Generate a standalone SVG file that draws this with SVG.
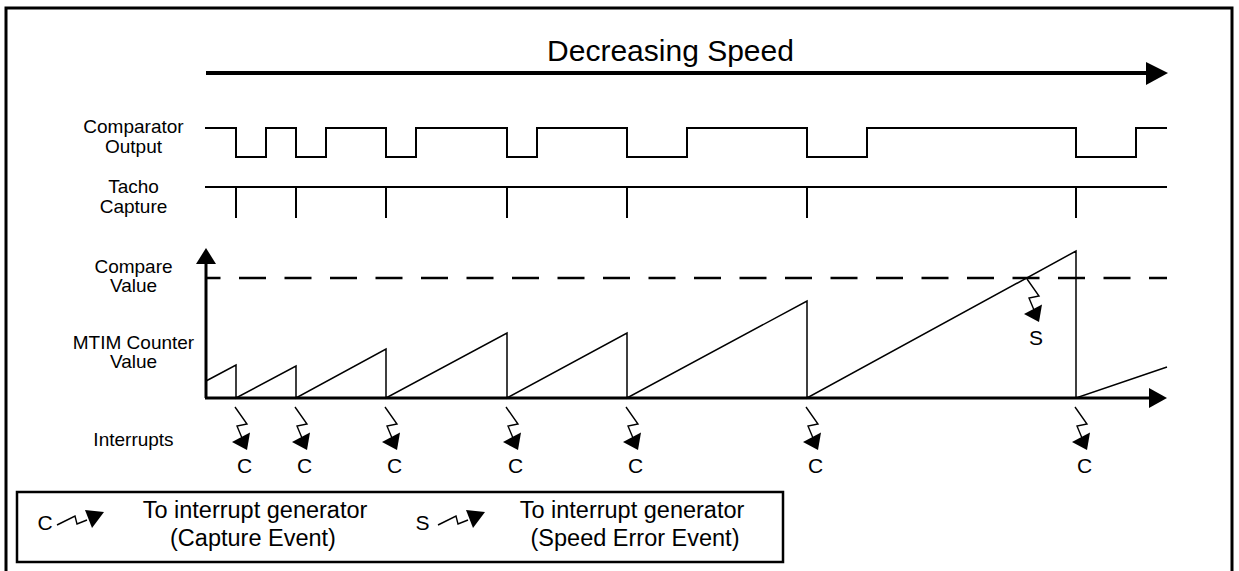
<svg xmlns="http://www.w3.org/2000/svg" xmlns:xlink="http://www.w3.org/1999/xlink" width="1239" height="571" viewBox="0 0 1239 571">
<style>
text{font-family:"Liberation Sans",Arial,sans-serif;fill:#000;text-anchor:middle}
.lbl{font-size:19px}
.ev{font-size:21px}
.leg{font-size:23.5px}
.ttl{font-size:30px}
.w{fill:none;stroke:#000;stroke-width:2}
.saw{fill:none;stroke:#000;stroke-width:1.5}
.ax{fill:none;stroke:#000;stroke-width:3}
.zz{fill:none;stroke:#000;stroke-width:1.4}
</style>
<defs>
<g id="zig">
<polyline class="zz" points="0,0 12,17 2,19 7,31"/>
<polygon points="12,43 -3,35 15,25.5" fill="#000"/>
</g>
<g id="lzig">
<polyline class="zz" points="0,0 18,-9 20,-1 30,-5"/>
<polygon points="47,-13 28,-15 35,3" fill="#000"/>
</g>
</defs>
<rect width="1239" height="571" fill="#fff"/>
<g id="frame">
<path d="M6,575 V8 H1232 V575" fill="none" stroke="#000" stroke-width="3"/>
</g>
<g id="title">
<line x1="206" y1="73" x2="1148" y2="73" stroke="#000" stroke-width="4"/>
<polygon points="1146,62 1168,73 1146,85" fill="#000"/>
<text class="ttl" x="670.5" y="61">Decreasing Speed</text>
</g>
<g id="labels">
<text class="lbl" x="133.5" y="133">Comparator</text>
<text class="lbl" x="133.5" y="152.5">Output</text>
<text class="lbl" x="133.5" y="193">Tacho</text>
<text class="lbl" x="133.5" y="212.5">Capture</text>
<text class="lbl" x="133.5" y="273">Compare</text>
<text class="lbl" x="133.5" y="292">Value</text>
<text class="lbl" x="133.5" y="349">MTIM Counter</text>
<text class="lbl" x="133.5" y="368">Value</text>
<text class="lbl" x="133.5" y="446">Interrupts</text>
</g>
<g id="comparator">
<path class="w" d="M205,128 H236 V157 H266 V128 H296 V157 H326 V128 H386 V157 H416 V128 H507 V157 H537 V128 H627 V157 H687 V128 H807 V157 H867 V128 H1076 V157 H1136 V128 H1167"/>
</g>
<g id="tacho">
<path class="w" d="M205,187 H1167 M236,187 V218 M296,187 V218 M386,187 V218 M507,187 V218 M627,187 V218 M807,187 V218 M1076,187 V218"/>
</g>
<g id="axes">
<line class="ax" x1="206" y1="398" x2="206" y2="262"/>
<polygon points="206,248 216,264 196,264" fill="#000"/>
<line class="ax" x1="205" y1="398" x2="1151" y2="398"/>
<polygon points="1167,398 1149,388 1149,408" fill="#000"/>
<line x1="206" y1="278" x2="1167" y2="278" stroke="#000" stroke-width="2.5" stroke-dasharray="27 18.5" stroke-dashoffset="12.5"/>
</g>
<g id="counter">
<path class="saw" d="M206,381 L236,365 V398 L296,366 V398 L386,349 V398 L507,333 V398 L627,333 V398 L807,301 V398 L1076,251 V398 L1167,367"/>
</g>
<g id="interrupts">
<use xlink:href="#zig" transform="translate(235,407)"/>
<use xlink:href="#zig" transform="translate(295,407)"/>
<use xlink:href="#zig" transform="translate(385,407)"/>
<use xlink:href="#zig" transform="translate(506,407)"/>
<use xlink:href="#zig" transform="translate(626,407)"/>
<use xlink:href="#zig" transform="translate(806,407)"/>
<use xlink:href="#zig" transform="translate(1075,407)"/>
<text class="ev" x="244.5" y="473">C</text>
<text class="ev" x="304.5" y="473">C</text>
<text class="ev" x="394.5" y="473">C</text>
<text class="ev" x="515.5" y="473">C</text>
<text class="ev" x="635.5" y="473">C</text>
<text class="ev" x="815.5" y="473">C</text>
<text class="ev" x="1084.5" y="473">C</text>
</g>
<g id="speed-error">
<use xlink:href="#zig" transform="translate(1027,279)"/>
<text class="ev" x="1036" y="345">S</text>
</g>
<g id="legend">
<rect x="17" y="492" width="766" height="70" fill="none" stroke="#000" stroke-width="2.5"/>
<text class="ev" x="45" y="530">C</text>
<use xlink:href="#lzig" transform="translate(57,525)"/>
<text class="leg" x="255" y="518">To interrupt generator</text>
<text class="leg" x="253" y="546">(Capture Event)</text>
<text class="ev" x="422.5" y="530">S</text>
<use xlink:href="#lzig" transform="translate(438,525)"/>
<text class="leg" x="632" y="518">To interrupt generator</text>
<text class="leg" x="635" y="546">(Speed Error Event)</text>
</g>
</svg>
